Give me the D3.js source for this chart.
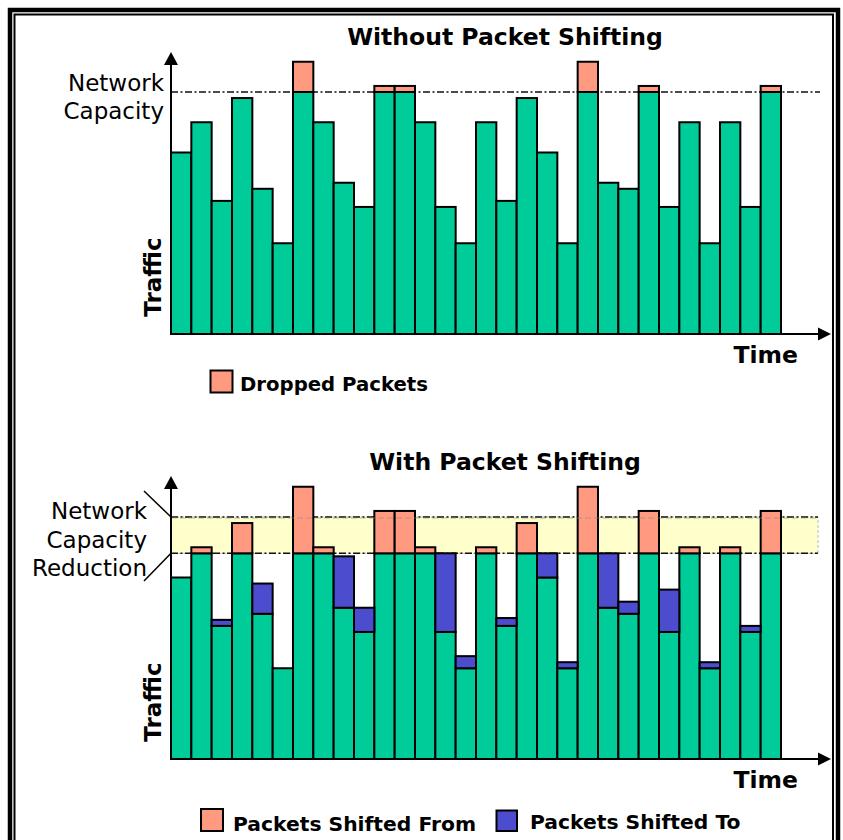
<!DOCTYPE html>
<html>
<head>
<meta charset="utf-8">
<script src="https://cdn.jsdelivr.net/npm/d3@7"></script>
<style>
body { margin: 0; background: #fff; }
svg { display: block; font-family: "DejaVu Sans", Verdana, sans-serif; }
</style>
</head>
<body>
<svg width="843" height="840"></svg>
<script>
// time slots along x
const slots = d3.range(1, 31);
const capacity = 40;
const reducedCapacity = 34;

// without packet shifting
const trafficTop = [30, 35, 22, 39, 24, 15, 40, 35, 25, 21, 40, 40, 35, 21, 15,
                    35, 22, 39, 30, 15, 40, 25, 24, 40, 21, 35, 15, 35, 21, 40];
const dropped    = [0, 0, 0, 0, 0, 0, 5, 0, 0, 0, 1, 1, 0, 0, 0,
                    0, 0, 0, 0, 0, 5, 0, 0, 1, 0, 0, 0, 0, 0, 1];

// with packet shifting
const trafficBottom = [30, 34, 22, 34, 24, 15, 34, 34, 25, 21, 34, 34, 34, 21, 15,
                       34, 22, 34, 30, 15, 34, 25, 24, 34, 21, 34, 15, 34, 21, 34];
const shiftedFrom   = [0, 1, 0, 5, 0, 0, 11, 1, 0, 0, 7, 7, 1, 0, 0,
                       1, 0, 5, 0, 0, 11, 0, 0, 7, 0, 1, 0, 1, 0, 7];
const shiftedTo     = [0, 0, 1, 0, 5, 0, 0, 0, 8.5, 4, 0, 0, 0, 13, 2,
                       0, 1.3, 0, 4, 1, 0, 9, 2, 0, 7, 0, 1, 0, 1, 0];

const colors = {
    traffic: "#00cc99",
    from: "#ff9980",
    to: "#4c4ccf",
    band: "#ffffcc"
};

const svg = d3.select("svg");

// outer double frame
svg.append("rect").attr("x", 10).attr("y", 10).attr("width", 828).attr("height", 860)
    .attr("fill", "none").attr("stroke", "#000").attr("stroke-width", 4.5);
svg.append("rect").attr("x", 14.5).attr("y", 14.5).attr("width", 818.5).attr("height", 860)
    .attr("fill", "none").attr("stroke", "#000").attr("stroke-width", 2);

const area = {
    left: 171,
    barsRight: 781,
    axisRight: 831,
    plotHeight: 242
};

const scX = d3.scaleBand()
    .domain(slots)
    .range([area.left, area.barsRight])
    .padding(0);

function drawStack(g, rows, keys, scY) {
    const series = d3.stack().keys(keys)(rows);
    series.forEach(layer => {
        g.selectAll(".bar-" + layer.key)
            .data(layer.filter(d => d[1] > d[0]))
            .enter()
            .append("rect")
            .attr("class", "bar-" + layer.key)
            .attr("x", d => scX(d.data.slot))
            .attr("y", d => scY(d[1]))
            .attr("width", scX.bandwidth())
            .attr("height", d => scY(d[0]) - scY(d[1]))
            .attr("fill", colors[layer.key])
            .attr("stroke", "#000")
            .attr("stroke-width", 2);
    });
}

function drawAxes(g, base, top) {
    g.append("line")
        .attr("x1", area.left).attr("x2", area.left)
        .attr("y1", base).attr("y2", top + 10)
        .attr("stroke", "#000").attr("stroke-width", 2);
    g.append("path")
        .attr("d", `M${area.left},${top} L${area.left - 7},${top + 13} L${area.left + 7},${top + 13} Z`)
        .attr("fill", "#000");
    g.append("line")
        .attr("x1", area.left - 1).attr("x2", area.axisRight - 10)
        .attr("y1", base).attr("y2", base)
        .attr("stroke", "#000").attr("stroke-width", 2);
    g.append("path")
        .attr("d", `M${area.axisRight},${base} L${area.axisRight - 13},${base - 6.5} L${area.axisRight - 13},${base + 6.5} Z`)
        .attr("fill", "#000");
}

function dashLine(g, y, x1, x2) {
    g.append("line")
        .attr("x1", x1).attr("x2", x2)
        .attr("y1", y).attr("y2", y)
        .attr("stroke", "#111").attr("stroke-width", 1.6)
        .attr("stroke-dasharray", "7,2.5,2,2.5");
}

function axisLabels(g, base, title) {
    g.append("text")
        .attr("x", 505).attr("y", base - 289)
        .attr("text-anchor", "middle")
        .attr("font-size", 23.5).attr("font-weight", "bold")
        .text(title);
    g.append("text")
        .attr("transform", `translate(161, ${base - 57}) rotate(-90)`)
        .attr("text-anchor", "middle")
        .attr("font-size", 23).attr("font-weight", "bold")
        .text("Traffic");
    g.append("text")
        .attr("x", 798).attr("y", base + 29)
        .attr("text-anchor", "end")
        .attr("font-size", 23.5).attr("font-weight", "bold")
        .text("Time");
}

function legendItem(g, x, y, size, color, label, textX, textY, fontSize) {
    g.append("rect")
        .attr("x", x).attr("y", y).attr("width", size).attr("height", size)
        .attr("fill", color).attr("stroke", "#000").attr("stroke-width", 2);
    g.append("text")
        .attr("x", textX).attr("y", textY)
        .attr("font-size", fontSize).attr("font-weight", "bold")
        .text(label);
}

// ---- top panel: without packet shifting
function drawTop() {
    const base = 334;
    const g = svg.append("g");
    const scY = d3.scaleLinear().domain([0, capacity]).range([base, base - area.plotHeight]);

    dashLine(g, scY(capacity), area.left, 820);

    const rows = slots.map((s, i) => ({ slot: s, traffic: trafficTop[i], from: dropped[i] }));
    drawStack(g, rows, ["traffic", "from"], scY);

    drawAxes(g, base, 52);
    axisLabels(g, base, "Without Packet Shifting");

    g.append("text").attr("x", 164).attr("y", 90.5)
        .attr("text-anchor", "end").attr("font-size", 23).text("Network");
    g.append("text").attr("x", 164).attr("y", 118.5)
        .attr("text-anchor", "end").attr("font-size", 23).text("Capacity");

    legendItem(g, 210.5, 370.5, 22, colors.from, "Dropped Packets", 240, 391, 19.7);
}

// ---- bottom panel: with packet shifting
function drawBottom() {
    const base = 759;
    const g = svg.append("g");
    const scY = d3.scaleLinear().domain([0, capacity]).range([base, base - area.plotHeight]);

    const yHigh = scY(capacity);
    const yLow = scY(reducedCapacity);

    g.append("rect")
        .attr("x", area.left).attr("y", yHigh)
        .attr("width", 818 - area.left).attr("height", yLow - yHigh)
        .attr("fill", colors.band)
        .attr("stroke", "#bbb").attr("stroke-width", 1)
        .attr("stroke-dasharray", "3,2");
    dashLine(g, yHigh, area.left, 818);
    dashLine(g, yLow, area.left, 818);

    const rows = slots.map((s, i) => ({
        slot: s,
        traffic: trafficBottom[i],
        from: shiftedFrom[i],
        to: shiftedTo[i]
    }));
    drawStack(g, rows, ["traffic", "from", "to"], scY);

    // faint capacity line seen through the bars
    g.append("line")
        .attr("x1", area.left).attr("x2", 818)
        .attr("y1", yHigh + 1).attr("y2", yHigh + 1)
        .attr("stroke", "#888").attr("stroke-opacity", 0.6).attr("stroke-width", 1)
        .attr("stroke-dasharray", "6,3");

    drawAxes(g, base, 476);
    axisLabels(g, base, "With Packet Shifting");

    g.append("text").attr("x", 147).attr("y", 519)
        .attr("text-anchor", "end").attr("font-size", 23).text("Network");
    g.append("text").attr("x", 147).attr("y", 547.5)
        .attr("text-anchor", "end").attr("font-size", 23).text("Capacity");
    g.append("text").attr("x", 147).attr("y", 576)
        .attr("text-anchor", "end").attr("font-size", 23).text("Reduction");

    // pointer lines from the label to the band edges
    g.append("line").attr("x1", 144).attr("y1", 491).attr("x2", area.left).attr("y2", yHigh)
        .attr("stroke", "#000").attr("stroke-width", 1.5);
    g.append("line").attr("x1", 144).attr("y1", 581).attr("x2", area.left).attr("y2", yLow)
        .attr("stroke", "#000").attr("stroke-width", 1.5);

    legendItem(g, 201, 809, 22, colors.from, "Packets Shifted From", 233, 830.5, 20.3);
    legendItem(g, 496.5, 810.5, 20.5, colors.to, "Packets Shifted To", 530, 828.5, 20.3);
}

drawTop();
drawBottom();
</script>
</body>
</html>
